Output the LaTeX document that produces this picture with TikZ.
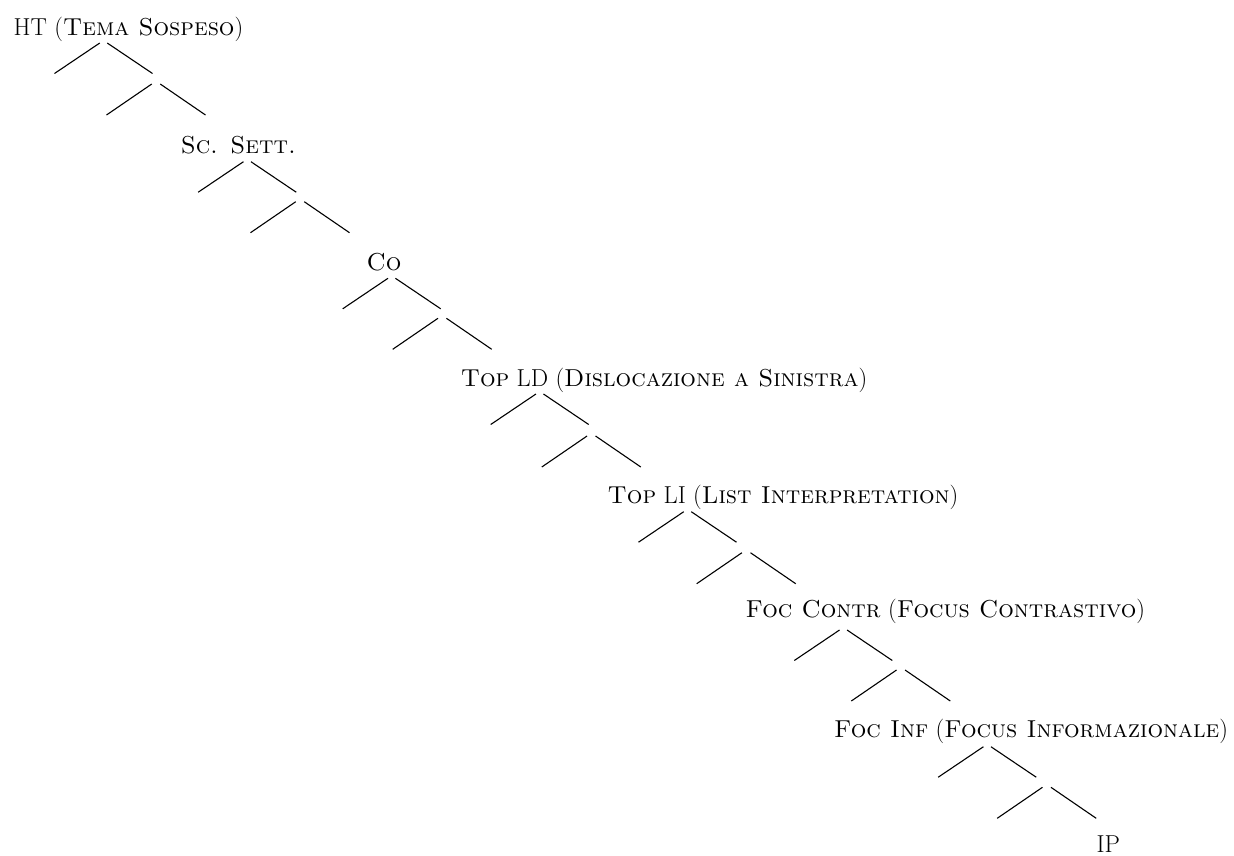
\documentclass[tikz,border=0pt]{standalone}
\begin{document}
\begin{tikzpicture}[x=1pt,y=-1pt,
  branch/.style={line width=1.1pt, line cap=butt},
  hinge/.style={shape=rectangle, inner sep=0pt, outer sep=0pt, minimum height=0pt},
  cat/.style={anchor=base, inner sep=0pt, font=\fontsize{24.5}{29}\selectfont}]
\useasboundingbox (0,0) rectangle (1234,855);

% category labels
\node[cat] (l0) at (128.5,35)  {HT (\textsc{Tema Sospeso})};
\node[cat] (l1) at (238.3,153) {\textsc{Sc. Sett.}};
\node[cat] (l2) at (384,270)   {\textsc{Co}};
\node[cat] (l3) at (664,386)   {\textsc{Top} LD (\textsc{Dislocazione a Sinistra})};
\node[cat] (l4) at (783,503)   {\textsc{Top} LI (\textsc{List Interpretation})};
\node[cat] (l5) at (945.3,617.5) {\textsc{Foc Contr} (\textsc{Focus Contrastivo})};
\node[cat] (l6) at (1031,737)  {\textsc{Foc Inf} (\textsc{Focus Informazionale})};
\node[cat] (l7) at (1108.4,852.5) {IP};

% branching under each label: upper fork, then lower fork on the right daughter
\foreach \k/\ax/\ay/\mx/\my in {
    0/103.5/43/156/84,
    1/247.2/161.7/300/201.7,
    2/391.7/278.3/442.2/318.3,
    3/539.7/394/591.3/436,
    4/687.5/511.7/746.2/552.7,
    5/843.3/630/900.8/670,
    6/987.2/746.7/1046.7/787.3}{
  \node[hinge, minimum width=7.5pt] (top\k) at (\ax,\ay) {};
  \node[hinge, minimum width=8.5pt] (mid\k) at (\mx,\my) {};
  \coordinate (la\k) at (\ax-49,\ay+30.5);
  \coordinate (ra\k) at (\ax+49,\ay+30.5);
  \coordinate (lb\k) at (\mx-49.5,\my+31);
  \coordinate (rb\k) at (\mx+49.5,\my+31);
  \draw[branch] (top\k.west) -- (la\k);
  \draw[branch] (top\k.east) -- (ra\k);
  \draw[branch] (mid\k.west) -- (lb\k);
  \draw[branch] (mid\k.east) -- (rb\k);
}
\end{tikzpicture}
\end{document}
